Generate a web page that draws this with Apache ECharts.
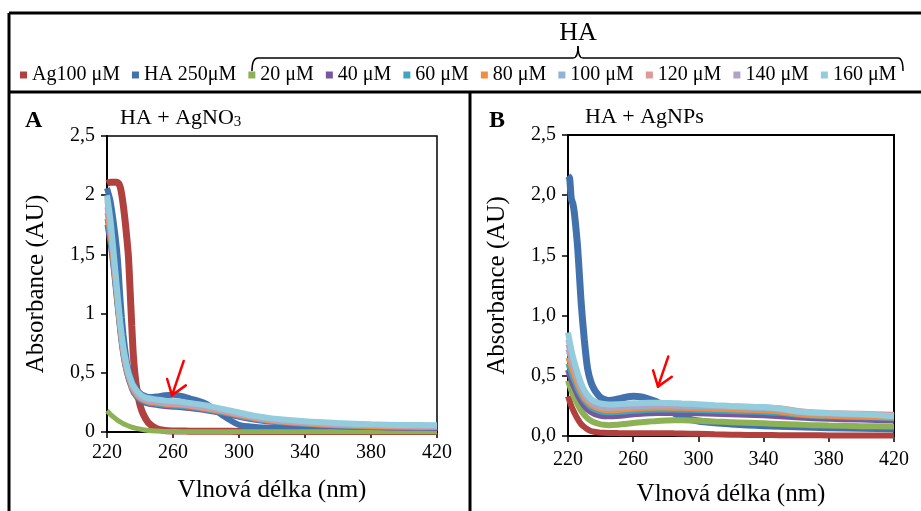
<!DOCTYPE html>
<html><head><meta charset="utf-8">
<script src="https://cdn.jsdelivr.net/npm/echarts@6/dist/echarts.min.js"></script>
<style>html,body{margin:0;padding:0;background:#fff}#c{width:921px;height:511px}</style>
</head><body><div id="c"></div>
<script>
// ---------- DATA ----------
const seriesNames = ['Ag100 μM','HA 250μM','20 μM','40 μM','60 μM','80 μM','100 μM','120 μM','140 μM','160 μM'];
const seriesColors = ['#B0413E','#4272AE','#8DB255','#76599C','#40A5BF','#F38C3C','#93B1D8','#DC9A98','#B3A2C8','#93CDDD'];

// Panel A: HA + AgNO3
const wlA = [220,222,224,226,227,228,229,230,231,232,233,234,235,236,237,238,240,242,245,250,255,260,265,270,280,290,300,310,320,340,360,380,400,420];
const A_Ag100 = [2.10,2.11,2.11,2.11,2.10,2.07,2.00,1.90,1.78,1.64,1.48,1.20,0.90,0.64,0.48,0.37,0.23,0.15,0.08,0.028,0.013,0.009,0.008,0.007,0.006,0.006,0.005,0.005,0.005,0.005,0.005,0.005,0.005,0.005];
const A_HA250 = [2.06,1.96,1.78,1.55,1.38,1.15,0.97,0.82,0.70,0.60,0.53,0.48,0.44,0.41,0.38,0.36,0.33,0.31,0.295,0.30,0.31,0.315,0.305,0.285,0.24,0.14,0.06,0.042,0.036,0.032,0.030,0.030,0.029,0.028];
const A_20  = [0.18,0.15,0.125,0.103,0.094,0.085,0.077,0.07,0.063,0.057,0.051,0.046,0.041,0.037,0.033,0.03,0.024,0.019,0.013,0.008,0.005,0.004,0.003,0.003,0.003,0.003,0.003,0.003,0.003,0.003,0.003,0.003,0.003,0.003];
const A_40  = [1.75,1.58,1.35,1.08,0.95,0.82,0.71,0.62,0.55,0.49,0.44,0.40,0.36,0.33,0.31,0.29,0.265,0.25,0.235,0.225,0.215,0.21,0.205,0.198,0.18,0.155,0.125,0.10,0.082,0.06,0.045,0.037,0.032,0.03];
const A_60  = [1.80,1.62,1.38,1.10,0.97,0.84,0.73,0.63,0.56,0.50,0.45,0.41,0.37,0.34,0.32,0.30,0.275,0.26,0.245,0.235,0.225,0.22,0.215,0.208,0.188,0.163,0.133,0.106,0.087,0.065,0.05,0.042,0.037,0.035];
const A_80  = [1.85,1.66,1.41,1.13,0.99,0.86,0.75,0.65,0.57,0.51,0.46,0.42,0.38,0.35,0.33,0.31,0.285,0.27,0.255,0.245,0.235,0.23,0.225,0.217,0.195,0.17,0.14,0.112,0.093,0.07,0.055,0.047,0.042,0.04];
const A_100 = [1.97,1.77,1.50,1.20,1.05,0.92,0.80,0.70,0.62,0.55,0.49,0.45,0.41,0.38,0.36,0.34,0.31,0.295,0.28,0.27,0.26,0.255,0.25,0.24,0.22,0.19,0.16,0.13,0.11,0.086,0.07,0.062,0.056,0.054];
const A_120 = [1.90,1.70,1.44,1.15,1.01,0.88,0.76,0.66,0.58,0.52,0.47,0.43,0.39,0.36,0.34,0.32,0.29,0.275,0.26,0.25,0.24,0.235,0.23,0.222,0.20,0.175,0.145,0.118,0.098,0.075,0.06,0.052,0.046,0.044];
const A_140 = [1.95,1.74,1.47,1.17,1.03,0.90,0.78,0.68,0.60,0.54,0.48,0.44,0.40,0.37,0.35,0.33,0.30,0.285,0.27,0.26,0.25,0.245,0.24,0.232,0.21,0.185,0.155,0.125,0.105,0.082,0.066,0.058,0.052,0.05];
const A_160 = [2.00,1.80,1.52,1.22,1.07,0.93,0.81,0.71,0.63,0.56,0.50,0.46,0.42,0.39,0.37,0.35,0.32,0.30,0.285,0.275,0.265,0.26,0.255,0.245,0.225,0.195,0.165,0.135,0.115,0.09,0.075,0.065,0.06,0.058];

// Panel B: HA + AgNPs
const wlB = [220,221,222,223,224,226,228,230,232,234,236,238,240,242,245,250,255,260,265,270,275,280,285,290,300,310,320,330,340,350,360,370,380,400,420];
const B_Ag100 = [0.33,0.29,0.25,0.22,0.19,0.14,0.10,0.075,0.055,0.042,0.035,0.031,0.028,0.026,0.025,0.024,0.023,0.023,0.023,0.023,0.023,0.023,0.022,0.021,0.018,0.014,0.011,0.009,0.008,0.007,0.006,0.006,0.005,0.005,0.005];
const B_HA250 = [2.16,2.14,1.97,1.93,1.84,1.55,1.12,0.80,0.56,0.45,0.39,0.35,0.32,0.305,0.295,0.305,0.32,0.33,0.325,0.305,0.28,0.24,0.19,0.155,0.125,0.11,0.10,0.092,0.086,0.08,0.076,0.072,0.069,0.064,0.06];
const B_20  = [0.46,0.42,0.38,0.345,0.315,0.26,0.21,0.175,0.148,0.128,0.114,0.104,0.097,0.093,0.09,0.093,0.10,0.108,0.115,0.12,0.125,0.128,0.13,0.13,0.127,0.12,0.115,0.11,0.105,0.10,0.095,0.09,0.087,0.082,0.078];
const B_40  = [0.55,0.51,0.47,0.43,0.40,0.34,0.29,0.25,0.22,0.20,0.185,0.175,0.168,0.164,0.163,0.167,0.173,0.18,0.185,0.188,0.19,0.19,0.19,0.19,0.188,0.185,0.18,0.176,0.172,0.165,0.155,0.148,0.143,0.136,0.13];
const B_60  = [0.60,0.56,0.52,0.48,0.45,0.38,0.33,0.29,0.26,0.235,0.22,0.21,0.20,0.195,0.193,0.196,0.20,0.205,0.21,0.213,0.215,0.215,0.215,0.214,0.212,0.208,0.204,0.20,0.196,0.188,0.175,0.165,0.16,0.152,0.145];
const B_80  = [0.65,0.61,0.57,0.53,0.49,0.42,0.36,0.31,0.28,0.255,0.24,0.228,0.22,0.214,0.21,0.212,0.218,0.224,0.228,0.23,0.232,0.232,0.231,0.23,0.227,0.222,0.218,0.214,0.21,0.20,0.18,0.17,0.165,0.157,0.15];
const B_100 = [0.72,0.67,0.62,0.58,0.54,0.46,0.39,0.34,0.30,0.275,0.258,0.245,0.237,0.232,0.23,0.232,0.237,0.242,0.246,0.248,0.249,0.249,0.248,0.247,0.244,0.24,0.236,0.232,0.228,0.218,0.198,0.187,0.182,0.174,0.167];
const B_120 = [0.76,0.71,0.66,0.61,0.57,0.49,0.42,0.36,0.32,0.29,0.272,0.26,0.252,0.247,0.245,0.247,0.252,0.257,0.26,0.262,0.263,0.263,0.262,0.261,0.258,0.254,0.25,0.246,0.242,0.235,0.215,0.202,0.196,0.188,0.18];
const B_140 = [0.80,0.74,0.68,0.63,0.59,0.50,0.42,0.36,0.32,0.29,0.27,0.257,0.248,0.243,0.24,0.242,0.247,0.252,0.255,0.257,0.258,0.258,0.257,0.256,0.253,0.249,0.245,0.241,0.237,0.227,0.205,0.193,0.187,0.178,0.171];
const B_160 = [0.86,0.79,0.72,0.66,0.61,0.52,0.44,0.38,0.34,0.31,0.29,0.278,0.27,0.265,0.262,0.264,0.268,0.272,0.275,0.276,0.276,0.275,0.273,0.27,0.264,0.256,0.25,0.245,0.24,0.228,0.205,0.195,0.19,0.18,0.165];

const xTicks = [220,260,300,340,380,420];
const yTicksA = ['0','0,5','1','1,5','2','2,5'];
const yTicksB = ['0,0','0,5','1,0','1,5','2,0','2,5'];
// annotation arrows: [start, tip] in data coordinates
const arrowA = [[266.5,0.6],[259.4,0.31]];
const arrowB = [[281.5,0.66],[275.2,0.41]];

// ---------- CHART ----------
const FONT = 'Liberation Serif';
const panelA = [A_Ag100,A_HA250,A_20,A_40,A_60,A_80,A_100,A_120,A_140,A_160];
const panelB = [B_Ag100,B_HA250,B_20,B_40,B_60,B_80,B_100,B_120,B_140,B_160];
const widthsA = [7,6,5,5,5,5,5,5,5,6];
const widthsB = [6,7,6,6,5,5,5,5,5,6];

function mkSeries(vals, wl, idx, gi, w){
  return {
    name: seriesNames[idx], type:'line', xAxisIndex:gi, yAxisIndex:gi,
    data: wl.map((x,i)=>[x, vals[i]]),
    showSymbol:false, symbol:'none', smooth:0.25,
    color: seriesColors[idx],
    lineStyle:{width:w, color:seriesColors[idx]},
    emphasis:{disabled:true}, z: 2
  };
}
const series = [];
panelA.forEach((v,i)=>series.push(mkSeries(v,wlA,i,0,widthsA[i])));
panelB.forEach((v,i)=>series.push(mkSeries(v,wlB,i,1,widthsB[i])));

function xAxis(gi, margin){
  return {type:'value', gridIndex:gi, min:220, max:420, interval:40,
    name:'Vlnová délka (nm)', nameLocation:'middle', nameGap:46,
    nameTextStyle:{fontFamily:FONT, fontSize:25, color:'#000'},
    axisLine:{show:true, onZero:false, lineStyle:{color:'#000', width:2}},
    axisTick:{show:true, length:6, lineStyle:{color:'#000', width:1.5}},
    axisLabel:{fontFamily:FONT, fontSize:20, color:'#000', margin:margin,
      formatter:v=> xTicks.includes(v) ? String(v) : ''},
    splitLine:{show:false}};
}
function yAxis(gi, labels){
  return {type:'value', gridIndex:gi, min:0, max:2.5, interval:0.5,
    name:'Absorbance (AU)', nameLocation:'middle', nameGap:58, nameRotate:90,
    nameTextStyle:{fontFamily:FONT, fontSize:25, color:'#000'},
    axisLine:{show:true, lineStyle:{color:'#000', width:2}},
    axisTick:{show:true, length:6, lineStyle:{color:'#000', width:1.5}},
    axisLabel:{fontFamily:FONT, fontSize:20, color:'#000', margin:12,
      formatter:v=> labels[Math.round(v/0.5)]},
    splitLine:{show:false}};
}

const chart = echarts.init(document.getElementById('c'), null, {renderer:'canvas'});
chart.setOption({
  animation:false,
  backgroundColor:'#fff',
  textStyle:{fontFamily:FONT},
  grid:[
    {left:107, top:136, width:330, height:296, show:true, borderColor:'#000', borderWidth:1.5, outerBoundsMode:'none'},
    {left:568, top:135, width:326, height:301, show:true, borderColor:'#000', borderWidth:2, outerBoundsMode:'none'}
  ],
  xAxis:[xAxis(0,11), xAxis(1,14)],
  yAxis:[yAxis(0,yTicksA), yAxis(1,yTicksB)],
  legend:{
    data: seriesNames, left:20, top:65, icon:'rect', itemWidth:7, itemHeight:7, itemGap:12,
    padding:0, selectedMode:false,
    textStyle:{fontFamily:FONT, fontSize:20, color:'#000'}
  },
  title:[
    {text:'A', left:25, top:109, padding:0, textStyle:{fontFamily:FONT, fontSize:24, fontWeight:'bold', color:'#000'}},
    {text:'HA + AgNO{s|3}', left:120, top:107, padding:0,
      textStyle:{fontFamily:FONT, fontSize:22, fontWeight:'normal', color:'#000',
        rich:{s:{fontFamily:FONT, fontSize:15, color:'#000', verticalAlign:'bottom', padding:[8,0,0,0]}}}},
    {text:'B', left:489, top:109, padding:0, textStyle:{fontFamily:FONT, fontSize:24, fontWeight:'bold', color:'#000'}},
    {text:'HA + AgNPs', left:585, top:106, padding:0, textStyle:{fontFamily:FONT, fontSize:22, fontWeight:'normal', color:'#000'}},
    {text:'HA', left:578, textAlign:'center', top:20, padding:0, textStyle:{fontFamily:FONT, fontSize:26, fontWeight:'normal', color:'#000'}}
  ],
  series: series
});

// arrows computed through the chart's own coordinate conversion
function arrowShapes(arr, gi){
  const s = chart.convertToPixel({gridIndex:gi}, arr[0]);
  const t = chart.convertToPixel({gridIndex:gi}, arr[1]);
  const dx = s[0]-t[0], dy = s[1]-t[1];
  const L = Math.hypot(dx,dy), ux = dx/L, uy = dy/L;
  const hl = 17, ang = 0.62;
  const w1 = [t[0] + hl*(ux*Math.cos(ang) - uy*Math.sin(ang)), t[1] + hl*(ux*Math.sin(ang) + uy*Math.cos(ang))];
  const w2 = [t[0] + hl*(ux*Math.cos(-ang) - uy*Math.sin(-ang)), t[1] + hl*(ux*Math.sin(-ang) + uy*Math.cos(-ang))];
  const st = {stroke:'#FF0000', lineWidth:2.5, fill:null, lineCap:'round', lineJoin:'round'};
  return [
    {type:'polyline', shape:{points:[s,t]}, style:st, z:100},
    {type:'polyline', shape:{points:[w1,t,w2]}, style:st, z:100}
  ];
}
const frame = {stroke:'#000', lineWidth:3, fill:null};
const br = {stroke:'#000', lineWidth:1.5, fill:null};
chart.setOption({
  graphic:[
    {type:'line', shape:{x1:9,y1:13,x2:921,y2:13}, style:frame, z:50},
    {type:'line', shape:{x1:9,y1:13,x2:9,y2:511}, style:frame, z:50},
    {type:'line', shape:{x1:9,y1:92,x2:921,y2:92}, style:frame, z:50},
    {type:'line', shape:{x1:470,y1:92,x2:470,y2:511}, style:frame, z:50},
    {type:'bezierCurve', z:50, shape:{x1:252,y1:71,cpx1:252,cpy1:58,x2:258,y2:58}, style:br},
    {type:'line', z:50, shape:{x1:258,y1:58,x2:573,y2:58}, style:br},
    {type:'bezierCurve', z:50, shape:{x1:573,y1:58,cpx1:578,cpy1:58,x2:578,y2:46}, style:br},
    {type:'bezierCurve', z:50, shape:{x1:578,y1:46,cpx1:578,cpy1:58,x2:583,y2:58}, style:br},
    {type:'line', z:50, shape:{x1:583,y1:58,x2:898,y2:58}, style:br},
    {type:'bezierCurve', z:50, shape:{x1:898,y1:58,cpx1:903,cpy1:58,x2:903,y2:71}, style:br},
    ...arrowShapes(arrowA,0),
    ...arrowShapes(arrowB,1)
  ]
});
</script>
</body></html>
